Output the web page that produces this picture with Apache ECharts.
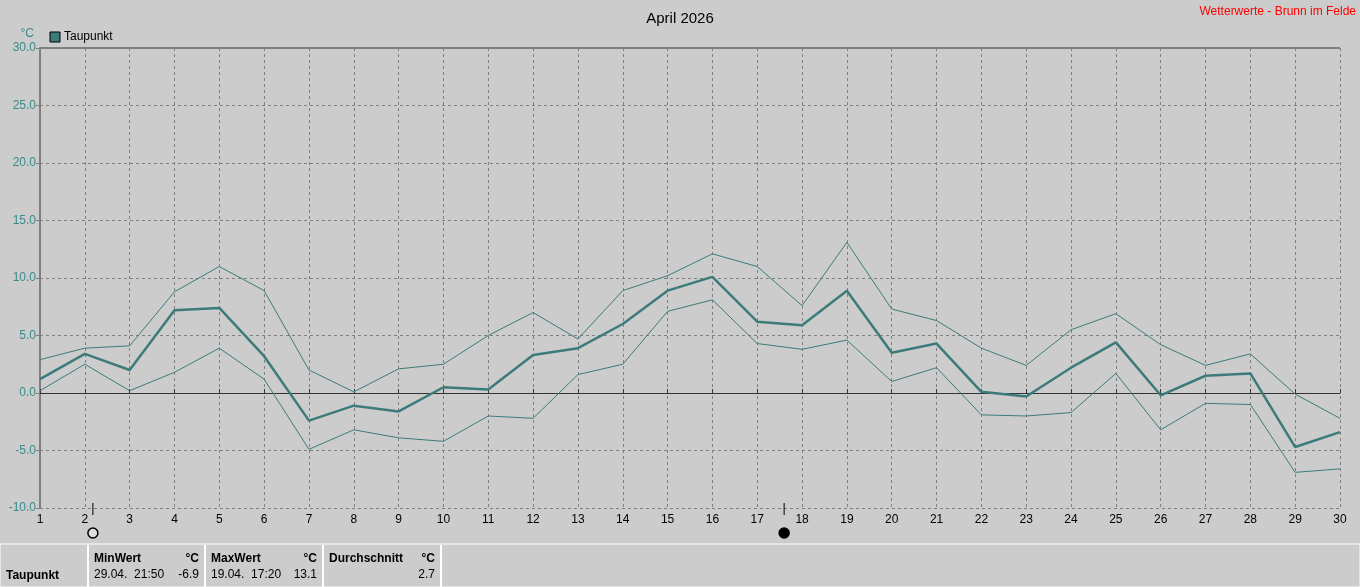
<!DOCTYPE html><html><head><meta charset="utf-8"><script src="https://cdn.jsdelivr.net/npm/echarts@6/dist/echarts.min.js"></script>
<style>html,body{margin:0;padding:0;background:#cccccc}#c{width:1360px;height:587px}</style></head><body><div id="c"></div><script>
const days=[1,2,3,4,5,6,7,8,9,10,11,12,13,14,15,16,17,18,19,20,21,22,23,24,25,26,27,28,29,30];
const meanVals=[1.2,3.4,2.0,7.2,7.4,3.2,-2.4,-1.1,-1.6,0.5,0.3,3.3,3.9,6.0,8.9,10.1,6.2,5.9,8.9,3.5,4.3,0.1,-0.3,2.2,4.4,-0.2,1.5,1.7,-4.7,-3.4];
const maxVals=[2.9,3.9,4.1,8.8,11.0,8.9,2.0,0.1,2.1,2.5,5.0,7.0,4.7,8.9,10.2,12.1,11.0,7.6,13.1,7.3,6.3,3.9,2.4,5.5,6.9,4.2,2.4,3.4,-0.1,-2.2];
const minVals=[0.2,2.5,0.2,1.8,3.9,1.2,-4.9,-3.2,-3.9,-4.2,-2.0,-2.2,1.6,2.5,7.1,8.1,4.3,3.8,4.6,1.0,2.2,-1.9,-2.0,-1.7,1.7,-3.2,-0.9,-1.0,-6.9,-6.6];
const moonDays=[2.18,17.6];
const col='#3d7b7b', lab='#3a8a8a';
const ch=echarts.init(document.getElementById('c'));
const pair=a=>a.map((v,i)=>[days[i],v]);
const F='Liberation Sans, Arial, sans-serif';
ch.setOption({backgroundColor:'#cccccc',animation:false,
title:{text:'April 2026',left:'center',top:6,textStyle:{fontSize:15,fontWeight:'normal',color:'#000',fontFamily:F}},
legend:{show:false},
grid:{left:40,right:20,top:48,bottom:79},
xAxis:{type:'value',min:1,max:30,interval:1,axisLine:{lineStyle:{color:'#333',width:1}},axisTick:{show:true,inside:true,length:4,lineStyle:{color:'#333'}},
 axisLabel:{color:'#000',fontSize:12,fontFamily:F,margin:6},splitLine:{show:true,lineStyle:{color:'#808080',type:[3,3]}}},
yAxis:{type:'value',min:-10,max:30,interval:5,name:'°C',nameGap:8,nameTextStyle:{color:lab,fontSize:12,align:'right',padding:[0,6,0,0]},
 axisLine:{show:true,lineStyle:{color:'#808080',width:2}},axisTick:{show:true,length:4,lineStyle:{color:'#808080'}},
 axisLabel:{color:lab,fontSize:12,fontFamily:F,formatter:v=>v.toFixed(1),margin:4},splitLine:{lineStyle:{color:'#808080',type:[3,3]}}},
series:[
{type:'line',data:pair(maxVals),symbol:'none',lineStyle:{color:col,width:1},z:2},
{type:'line',data:pair(minVals),symbol:'none',lineStyle:{color:col,width:1},z:2},
{type:'line',name:'Taupunkt',data:pair(meanVals),symbol:'none',lineStyle:{color:col,width:2.5},z:3}
]});
const g=[
{type:'line',shape:{x1:40,y1:48,x2:1340,y2:48},style:{stroke:'#808080',lineWidth:2}},
{type:'rect',shape:{x:50,y:32,width:10,height:10},style:{fill:col,stroke:'#000',lineWidth:1}},
{type:'text',x:64,y:31,style:{text:'Taupunkt',fill:'#000',font:'12px '+F}},
{type:'text',x:1356,y:6,style:{text:'Wetterwerte - Brunn im Felde',fill:'#ff0000',font:'12px '+F,align:'right'}},
{type:'rect',shape:{x:0,y:544,width:1360,height:43},style:{fill:'#cccccc',stroke:'#ffffff',lineWidth:1}}
];
[[88,205,'MinWert','29.04.  21:50','-6.9'],[205,323,'MaxWert','19.04.  17:20','13.1'],[323,441,'Durchschnitt','','2.7']].forEach(c=>{
 g.push({type:'line',shape:{x1:c[0],y1:545,x2:c[0],y2:587},style:{stroke:'#fff',lineWidth:2}});
 g.push({type:'text',x:c[0]+6,y:553,style:{text:c[2],fill:'#000',font:'bold 12px '+F}});
 g.push({type:'text',x:c[1]-6,y:553,style:{text:'°C',fill:'#000',font:'bold 12px '+F,align:'right'}});
 g.push({type:'text',x:c[0]+6,y:569,style:{text:c[3],fill:'#000',font:'12px '+F}});
 g.push({type:'text',x:c[1]-6,y:569,style:{text:c[4],fill:'#000',font:'12px '+F,align:'right'}});
});
g.push({type:'line',shape:{x1:441,y1:545,x2:441,y2:587},style:{stroke:'#fff',lineWidth:2}});
g.push({type:'text',x:6,y:570,style:{text:'Taupunkt',fill:'#000',font:'bold 12px '+F}});
moonDays.forEach((d,i)=>{const x=ch.convertToPixel({xAxisIndex:0},d);
 g.push({type:'line',shape:{x1:x,y1:503,x2:x,y2:515},style:{stroke:'#000',lineWidth:1}});
 g.push({type:'circle',shape:{cx:x,cy:533,r:5},style:{fill:i?'#000':'#ddd',stroke:'#000',lineWidth:1.5}});
});
ch.setOption({graphic:g});
</script></body></html>
